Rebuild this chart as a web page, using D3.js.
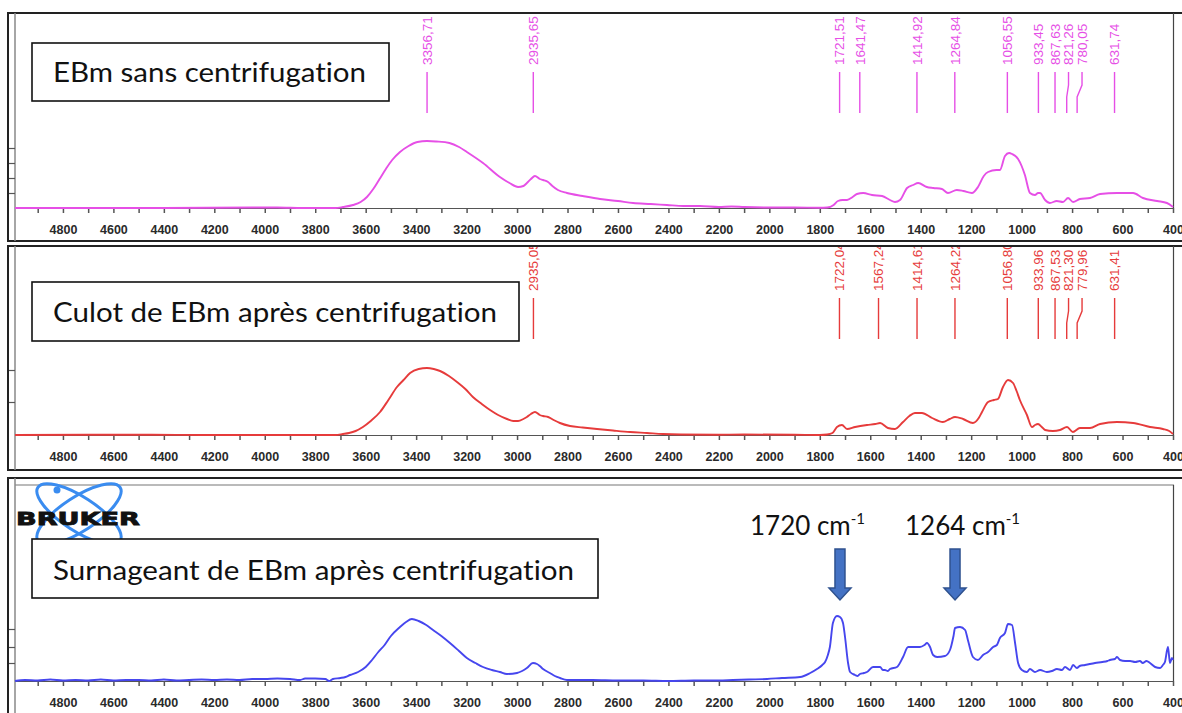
<!DOCTYPE html>
<html>
<head>
<meta charset="utf-8">
<script src="https://cdn.jsdelivr.net/npm/d3@7"></script>
<style>
  body { margin: 0; background: #fff; }
  svg { display: block; }
  text { font-variant-ligatures: none; font-feature-settings: "liga" 0, "clig" 0; }
</style>
</head>
<body>
<div id="chart"></div>
<script>
// spectra: [wavenumber cm-1, absorbance (arbitrary units)]
var specSans = [[4990,0],[4400,0],[4050,0.5],[3950,0.5],[3850,0],[3720,0],[3690,1],[3650,3],[3620,6],[3595,11],[3570,19],[3545,29],[3520,39],[3495,48],[3464,56],[3430,62],[3395,66],[3357,67],[3320,66.5],[3268,65],[3230,61],[3199,56],[3135,45],[3068,31],[3030,25],[2996,21],[2975,22],[2961,25],[2945,29],[2929,32],[2910,29],[2897,28],[2877,26],[2860,22],[2838,18],[2802,15],[2740,12],[2671,9],[2600,7],[2540,5],[2470,4],[2406,3],[2340,2],[2275,2],[2200,1],[2150,1.5],[2100,1],[2000,0.5],[1900,0.5],[1800,0.3],[1771,0.5],[1745,3],[1728,7],[1710,8],[1692,8],[1670,11],[1653,14],[1628,15],[1593,13],[1553,12],[1522,8],[1502,6],[1482,8],[1454,20],[1430,23],[1410,25],[1376,21],[1350,20],[1316,19],[1292,15],[1257,18],[1231,17],[1197,15],[1173,21],[1150,32],[1133,36],[1100,38],[1086,38],[1066,52],[1050,55],[1038,54],[1014,49],[1000,42],[987,33],[967,15],[947,13],[935,15],[927,15],[907,8],[888,5],[861,7],[836,6],[816,10],[796,6],[769,9],[729,10],[689,14],[622,15],[558,15],[519,10],[463,7],[424,5],[400,1]];

var specCulot = [[4990,0],[4700,0.3],[4500,0.3],[4200,0],[3720,0],[3690,1],[3666,2],[3640,4],[3611,8],[3580,14],[3543,23],[3510,35],[3476,48],[3450,55],[3424,62],[3390,66],[3357,67],[3330,66],[3305,64],[3270,59],[3238,53],[3205,46],[3175,38],[3140,31],[3107,25],[3075,20],[3040,16],[3015,14],[2996,14],[2975,16],[2961,18],[2945,21],[2929,23],[2910,20],[2897,19],[2877,18],[2855,15],[2830,12],[2790,9],[2740,7.5],[2683,6],[2620,4.5],[2552,3],[2485,2],[2422,1],[2350,0.5],[2200,0.3],[2100,0.5],[1900,0.3],[1800,0],[1771,0.5],[1750,2],[1732,8],[1712,10],[1692,6],[1660,8],[1613,10],[1580,11],[1561,12],[1530,7],[1502,6],[1470,13],[1445,19],[1423,22],[1395,22],[1355,17],[1312,13],[1285,16],[1264,18],[1232,16],[1193,12],[1170,17],[1157,23],[1133,33],[1110,35],[1094,36],[1074,48],[1054,55],[1034,52],[1020,44],[1007,35],[979,20],[959,8],[947,10],[935,11],[920,8],[907,5],[876,4],[848,5],[820,8],[797,3],[769,7],[729,7],[689,11],[622,13],[558,12],[491,8],[440,6],[415,4],[400,1]];

var specSurn = [[4990,0],[4950,1],[4900,0.5],[4850,1.5],[4800,0.5],[4750,1],[4700,0.5],[4650,1.5],[4600,0.5],[4550,1],[4500,1],[4450,0.5],[4400,1.5],[4350,0.5],[4300,1],[4250,1.5],[4200,1],[4150,1.5],[4100,1],[4050,2],[4000,2],[3950,2.5],[3900,2],[3860,1],[3840,2.5],[3800,2.5],[3760,2],[3745,0],[3730,2],[3700,3],[3680,4],[3662,6],[3630,9],[3600,14],[3575,21],[3550,29],[3525,36],[3500,45],[3464,54],[3440,59],[3417,62],[3390,60],[3360,56],[3333,51],[3300,45],[3266,38],[3230,30],[3199,23],[3165,18],[3135,14],[3100,11],[3068,9],[3040,7],[3000,8],[2980,10],[2961,13],[2937,18],[2921,17],[2910,15],[2897,12],[2870,8],[2850,5],[2830,3],[2802,1],[2700,1],[2600,0.5],[2500,0.5],[2400,0],[2300,0.5],[2200,0.5],[2144,1],[2080,1.5],[2009,2],[1950,3],[1878,4],[1838,8],[1811,12],[1790,16],[1779,19],[1768,26],[1760,34],[1748,58],[1732,65],[1720,64],[1708,58],[1700,44],[1688,18],[1680,9],[1660,6],[1650,5],[1641,7],[1625,8],[1613,9],[1589,14],[1575,14],[1561,14],[1550,11],[1542,11],[1530,10],[1522,12],[1494,14],[1470,24],[1450,34],[1423,34],[1403,34],[1385,36],[1375,38],[1363,34],[1351,26],[1335,24],[1304,25],[1284,31],[1270,45],[1264,53],[1244,54],[1224,51],[1213,41],[1193,24],[1173,21],[1153,26],[1133,29],[1113,34],[1098,36],[1086,43],[1066,48],[1054,57],[1038,56],[1026,38],[1014,18],[999,11],[979,9],[967,12],[947,9],[927,11],[900,9],[880,10],[860,12],[840,11],[828,14],[808,11],[796,16],[781,13],[770,15],[749,16],[730,17],[709,18],[680,19],[660,20],[650,21],[630,22],[622,24],[610,21],[590,20],[570,20],[550,19],[531,20],[520,18],[505,20],[491,18],[471,14],[451,13],[440,16],[432,19],[420,34],[416,26],[412,18],[404,23],[400,21]];

// picked peaks
var peaksSans = [3356.71, 2935.65, 1721.51, 1641.47, 1414.92, 1264.84, 1056.55, 933.45, 867.63, 821.26, 780.05, 631.74];
var peaksCulot = [2935.05, 1722.04, 1567.24, 1414.61, 1264.22, 1056.80, 933.96, 867.53, 821.30, 779.96, 631.41];

var titles = ["EBm sans centrifugation", "Culot de EBm après centrifugation", "Surnageant de EBm après centrifugation"];
var arrowPeaks = [1720, 1264];
var xTicks = d3.range(4900, 399, -100);
var yTicks = [[15, 30, 45, 60], [33, 65], [18, 34, 52]];

var colors = ["#e64fe6", "#e63b3b", "#4646ee"];

var width = 1182, height = 713;
var svg = d3.select("#chart").append("svg")
    .attr("width", width).attr("height", height);

var x = d3.scaleLinear().domain([4990, 400]).range([15, 1173]);

// panel layout
var panels = [
  {top: 13, bottom: 241, base: 208, data: specSans, peaks: peaksSans, txtEnd: 65, l1: 72, l2: 113,
   box: {x: 32, y: 43, w: 357, h: 58, tx: 53, ty: 82, tl: 313}},
  {top: 246, bottom: 470, base: 435, data: specCulot, peaks: peaksCulot, txtEnd: 291, l1: 298, l2: 339,
   box: {x: 32, y: 282, w: 487, h: 59, tx: 53, ty: 322, tl: 444}},
  {top: 478, bottom: 730, base: 681, data: specSurn, peaks: [], inner: 485,
   box: {x: 32, y: 539, w: 566, h: 59, tx: 53, ty: 580, tl: 521}}
];

var fmt = function(v) { return v.toFixed(2).replace(".", ","); };

panels.forEach(function(p, i) {

  var y = d3.scaleLinear().domain([0, 100]).range([p.base, p.base - 100]);

  var g = svg.append("g");

  svg.append("clipPath").attr("id", "clip" + i)
    .append("rect").attr("x", 8).attr("y", p.top + 1)
    .attr("width", width).attr("height", p.bottom - p.top - 2);

  // frame
  g.append("rect")
    .attr("x", 8).attr("y", p.top)
    .attr("width", width).attr("height", p.bottom - p.top)
    .attr("fill", "#fff").attr("stroke", "#222").attr("stroke-width", 2);
  if (p.inner) {
    g.append("line").attr("x1", 15).attr("x2", 1174)
      .attr("y1", p.inner).attr("y2", p.inner)
      .attr("stroke", "#777").attr("stroke-width", 1.2);
  }
  g.append("line").attr("x1", 15).attr("x2", 15)
    .attr("y1", p.top).attr("y2", p.bottom)
    .attr("stroke", "#888").attr("stroke-width", 1.5);
  g.append("line").attr("x1", 1173.5).attr("x2", 1173.5)
    .attr("y1", p.inner || p.top).attr("y2", p.base)
    .attr("stroke", "#444").attr("stroke-width", 1.2);

  // y ticks
  var yAxis = d3.axisLeft(y).tickValues(yTicks[i]).tickSize(6).tickFormat("");
  var ya = g.append("g").attr("transform", "translate(15,0)").call(yAxis);
  ya.select(".domain").remove();
  ya.selectAll("line").attr("stroke", "#555").attr("stroke-width", 1.2);

  // x axis
  var xAxis = d3.axisBottom(x).tickValues(xTicks).tickSize(5).tickPadding(12).tickSizeOuter(0)
    .tickFormat(function(d) { return d % 200 === 0 ? d : ""; });
  var xa = g.append("g").attr("transform", "translate(0," + p.base + ")").call(xAxis);
  xa.select(".domain").attr("stroke", "#555").attr("stroke-width", 1.2);
  xa.selectAll("line").attr("stroke", "#555").attr("stroke-width", 1.5);
  xa.selectAll("text")
    .attr("font-family", "Liberation Sans, Arial, sans-serif")
    .attr("font-weight", "bold").attr("font-size", 12.5).attr("fill", "#2a2a2a");

  var content = g.append("g").attr("clip-path", "url(#clip" + i + ")");

  // spectrum
  var line = d3.line()
    .x(function(d) { return x(d[0]); })
    .y(function(d) { return y(d[1]); })
    .curve(d3.curveMonotoneX);
  content.append("path").datum(p.data)
    .attr("d", line).attr("fill", "none")
    .attr("stroke", colors[i]).attr("stroke-width", 1.9)
    .attr("stroke-linejoin", "round");

  // peak labels, spread apart so they do not overlap
  var lastX = -1e9;
  var lab = p.peaks.slice().sort(function(a, b) { return b - a; }).map(function(v) {
    var px = x(v), lx = Math.max(px, lastX + 13.5);
    lastX = lx;
    return {v: v, px: px, lx: lx};
  });
  var pk = content.selectAll(".pk").data(lab).enter().append("g");
  pk.append("path")
    .attr("d", function(d) {
      return "M" + d.lx + "," + p.l1 + "L" + d.lx + "," + (p.l1 + 13) +
             "L" + d.px + "," + (p.l1 + 25) + "L" + d.px + "," + p.l2;
    })
    .attr("fill", "none").attr("stroke", colors[i]).attr("stroke-width", 1.4);
  pk.append("text")
    .attr("transform", function(d) { return "translate(" + d.lx + "," + p.txtEnd + ") rotate(-90)"; })
    .attr("dy", "0.36em")
    .attr("font-family", "Liberation Sans, Arial, sans-serif")
    .attr("font-size", 13.5).attr("fill", colors[i])
    .text(function(d) { return fmt(d.v); });

  // Bruker logo in the last panel
  if (i === 2) {
    var logo = content.append("g");
    [-33, 33].forEach(function(a) {
      logo.append("ellipse").attr("cx", 79).attr("cy", 514).attr("rx", 49).attr("ry", 17)
        .attr("transform", "rotate(" + a + ",79,514)")
        .attr("fill", "none").attr("stroke", "#3a8cf0").attr("stroke-width", 3);
    });
    logo.append("circle").attr("cx", 57).attr("cy", 490).attr("r", 3.5).attr("fill", "#3a8cf0");
    logo.append("text").attr("x", 16).attr("y", 525)
      .attr("font-family", "DejaVu Sans, sans-serif").attr("font-weight", "bold")
      .attr("font-size", 17).attr("textLength", 124).attr("lengthAdjust", "spacingAndGlyphs")
      .attr("fill", "#111").attr("stroke", "#111").attr("stroke-width", 0.8)
      .text("BRUKER");

    // arrows to 1720 and 1264 cm-1
    var shift = [-90, -50];
    arrowPeaks.forEach(function(v, k) {
      var cx = x(v);
      logo.append("path")
        .attr("d", "M" + (cx - 5) + ",549 L" + (cx + 5) + ",549 L" + (cx + 5) + ",588 L" + (cx + 11) + ",588 L" +
                   cx + ",600 L" + (cx - 11) + ",588 L" + (cx - 5) + ",588 Z")
        .attr("fill", "#4472c4").attr("stroke", "#2f528f").attr("stroke-width", 1.5);
      var t = logo.append("text").attr("x", cx + shift[k]).attr("y", 535)
        .attr("font-family", "Lato, Open Sans, sans-serif").attr("font-size", 26).attr("fill", "#111");
      t.append("tspan").text(v + " cm");
      t.append("tspan").attr("font-size", 15).attr("dy", -11).text("-1");
    });
  }

  // title box
  var b = p.box;
  g.append("rect").attr("x", b.x).attr("y", b.y).attr("width", b.w).attr("height", b.h)
    .attr("fill", "#fff").attr("stroke", "#111").attr("stroke-width", 1.6);
  g.append("text").attr("x", b.tx).attr("y", b.ty)
    .attr("font-family", "Lato, Open Sans, sans-serif").attr("font-size", 26)
    .attr("textLength", b.tl).attr("lengthAdjust", "spacingAndGlyphs")
    .attr("fill", "#111").text(titles[i]);
});
</script>
</body>
</html>
